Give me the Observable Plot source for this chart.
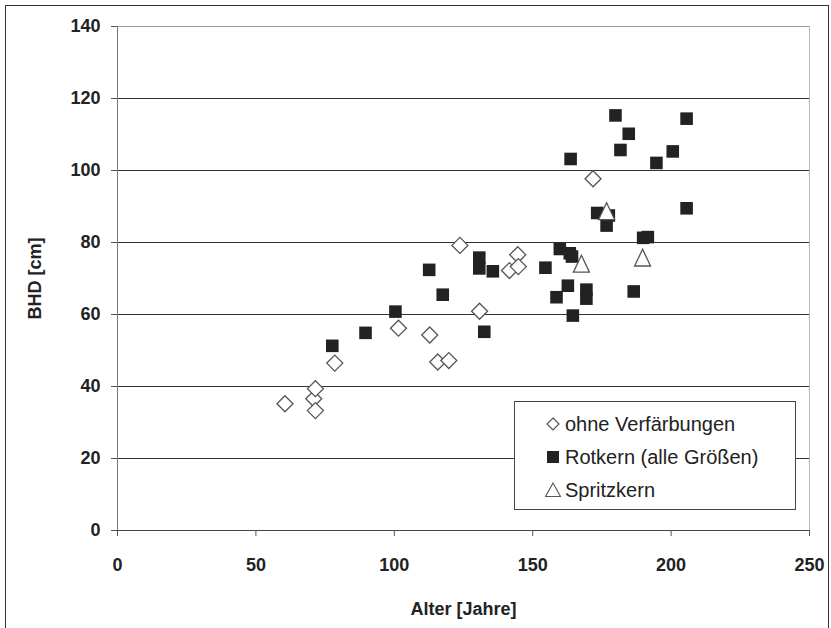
<!DOCTYPE html>
<html>
<head>
<meta charset="utf-8">
<script src="https://cdn.jsdelivr.net/npm/d3@7"></script>
<script src="https://cdn.jsdelivr.net/npm/@observablehq/plot@0.6"></script>
<style>
  html, body { margin: 0; padding: 0; background: #fff; }
  #wrap { position: relative; width: 831px; height: 628px; overflow: hidden; font-family: "Liberation Sans", Arial, sans-serif; }
  #outer { position: absolute; left: 5px; top: 5px; width: 822px; height: 700px; border: 1px solid #333; pointer-events: none; }
  #legend { position: absolute; left: 514px; top: 401px; width: 282px; height: 109px; border: 1px solid #444; background: #fff; box-sizing: border-box; }
  .row { position: absolute; left: 0; height: 30px; display: flex; align-items: center; font-size: 20px; color: #222; }
  .row svg { margin-left: 30px; margin-right: 4px; }
</style>
</head>
<body>
<div id="wrap">
  <div id="chart"></div>
  <div id="outer"></div>
  <div id="legend"></div>
</div>
<script>
// Data
const ohneAlter = [60.5, 70.9, 71.5, 71.5, 78.5, 101.5, 112.8, 115.7, 119.7, 123.7, 130.8, 141.6, 144.6, 144.8, 171.8];
const ohneBHD   = [35.2, 36.6, 39.4, 33.3, 46.5, 56.2, 54.3, 46.8, 47.2, 79.2, 60.9, 72.2, 76.6, 73.3, 97.7];

const rotAlter = [77.6, 89.6, 100.4, 112.6, 117.5, 130.7, 130.7, 135.6, 132.5, 154.6, 159.8, 158.6, 163.4, 164.2, 162.7, 164.5, 169.4, 169.4, 163.7, 173.3, 177.5, 176.7, 179.9, 184.7, 181.7, 186.5, 189.9, 191.6, 194.7, 200.6, 205.6, 205.6];
const rotBHD   = [51.3, 54.9, 60.8, 72.4, 65.5, 75.8, 72.8, 72.0, 55.2, 73.0, 78.2, 64.8, 77.0, 76.1, 68.0, 59.7, 66.9, 64.4, 103.2, 88.2, 87.5, 84.7, 115.3, 110.2, 105.7, 66.4, 81.3, 81.5, 102.1, 105.3, 114.4, 89.5];

const spritzAlter = [167.6, 176.7, 189.7];
const spritzBHD   = [74.1, 88.7, 75.8];

const xTicks = [0, 50, 100, 150, 200, 250];
const yTicks = [0, 20, 40, 60, 80, 100, 120, 140];
const gridValues = [20, 40, 60, 80, 100, 120];

const seriesNames = ["ohne Verfärbungen", "Rotkern (alle Größen)", "Spritzkern"];
const xLabel = "Alter [Jahre]";
const yLabel = "BHD [cm]";

const toRows = (xs, ys) => xs.map((x, i) => ({x, y: ys[i]}));
const ohne = toRows(ohneAlter, ohneBHD);
const rot = toRows(rotAlter, rotBHD);
const spritz = toRows(spritzAlter, spritzBHD);

const triangle = {
  draw(ctx, size) {
    const r = Math.sqrt(size / Math.PI);
    const w = r, h = r * 1.05;
    ctx.moveTo(0, -h);
    ctx.lineTo(w, h);
    ctx.lineTo(-w, h);
    ctx.closePath();
  }
};

const plot = Plot.plot({
  width: 831,
  height: 628,
  marginLeft: 117,
  marginRight: 22,
  marginTop: 26,
  marginBottom: 98,
  style: {fontFamily: "Liberation Sans, Arial, sans-serif", fontSize: "18px", fontWeight: "bold", color: "#222", background: "transparent"},
  x: {domain: [0, 250]},
  y: {domain: [0, 140]},
  marks: [
    Plot.ruleY(gridValues, {stroke: "#333", strokeWidth: 1}),
    Plot.ruleY([140], {stroke: "#999", strokeWidth: 1}),
    Plot.ruleX([250], {stroke: "#bbb", strokeWidth: 1}),
    Plot.ruleX([0], {stroke: "#777", strokeWidth: 1}),
    Plot.ruleY([0], {stroke: "#444", strokeWidth: 1}),
    Plot.axisX({ticks: xTicks, tickSize: 6, tickPadding: 22, stroke: "#555", fill: "#222", label: xLabel, labelAnchor: "center", labelArrow: "none", labelOffset: 84, fontSize: 18}),
    Plot.axisY({ticks: yTicks, tickSize: 6, tickPadding: 11, stroke: "#555", fill: "#222", label: yLabel, labelAnchor: "center", labelArrow: "none", labelOffset: 89, fontSize: 18}),
    Plot.dot(ohne, {x: "x", y: "y", symbol: "diamond2", r: 7.2, stroke: "#555", strokeWidth: 1.3, fill: "white"}),
    Plot.dot(rot, {x: "x", y: "y", symbol: "square", r: 7.1, fill: "#222", stroke: "none"}),
    Plot.dot(spritz, {x: "x", y: "y", symbol: triangle, r: 8, stroke: "#555", strokeWidth: 1.3, fill: "white"})
  ]
});
document.getElementById("chart").appendChild(plot);

// Legend (HTML overlay)
const glyphs = [
  '<svg width="16" height="16" viewBox="-8 -8 16 16"><path d="M0,-6L6,0L0,6L-6,0Z" fill="white" stroke="#555" stroke-width="1.2"/></svg>',
  '<svg width="16" height="16" viewBox="-8 -8 16 16"><rect x="-6" y="-6" width="12" height="12" fill="#222"/></svg>',
  '<svg width="16" height="16" viewBox="-8 -8 16 16"><path d="M0,-7L7.5,6.5L-7.5,6.5Z" fill="white" stroke="#555" stroke-width="1.1"/></svg>'
];
const legend = document.getElementById("legend");
const rowTops = [7, 40, 73];
seriesNames.forEach((name, i) => {
  const row = document.createElement("div");
  row.className = "row";
  row.style.top = rowTops[i] + "px";
  row.innerHTML = glyphs[i] + "<span>" + name + "</span>";
  legend.appendChild(row);
});
</script>
</body>
</html>
